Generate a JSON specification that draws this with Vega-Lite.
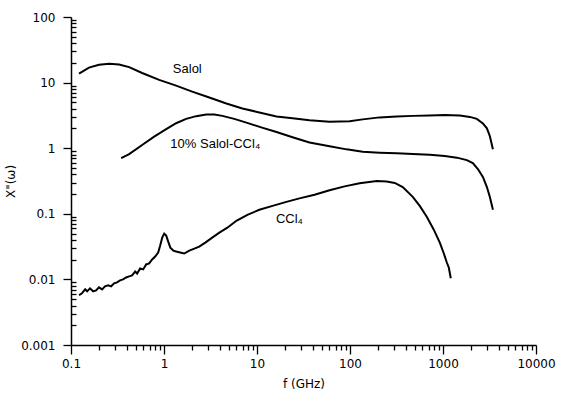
{
  "$schema": "https://vega.github.io/schema/vega-lite/v6.json",
  "width": 465,
  "height": 328,
  "autosize": {"type": "none"},
  "padding": {"left": 71, "top": 17, "right": 26, "bottom": 48},
  "background": "white",
  "config": {
    "view": {"stroke": null},
    "font": "Liberation Sans",
    "axis": {
      "domainColor": "black",
      "domainWidth": 1.5,
      "tickColor": "black",
      "tickWidth": 1.3,
      "grid": false,
      "labelColor": "black",
      "titleColor": "black",
      "labelFont": "DejaVu Sans",
      "labelFontSize": 12,
      "titleFont": "DejaVu Sans",
      "titleFontSize": 12,
      "titleFontWeight": "normal"
    }
  },
  "datasets": {
    "curves": [
      {"series": "Salol", "f": 0.122, "chi": 13.7},
      {"series": "Salol", "f": 0.156, "chi": 16.9},
      {"series": "Salol", "f": 0.2, "chi": 18.7},
      {"series": "Salol", "f": 0.257, "chi": 19.4},
      {"series": "Salol", "f": 0.329, "chi": 18.9},
      {"series": "Salol", "f": 0.422, "chi": 17.2},
      {"series": "Salol", "f": 0.582, "chi": 14.0},
      {"series": "Salol", "f": 0.887, "chi": 11.0},
      {"series": "Salol", "f": 1.35, "chi": 9.0},
      {"series": "Salol", "f": 2.01, "chi": 7.3},
      {"series": "Salol", "f": 3.07, "chi": 5.93},
      {"series": "Salol", "f": 4.68, "chi": 4.81},
      {"series": "Salol", "f": 6.96, "chi": 4.04},
      {"series": "Salol", "f": 10.6, "chi": 3.51},
      {"series": "Salol", "f": 16.2, "chi": 3.05},
      {"series": "Salol", "f": 24.1, "chi": 2.85},
      {"series": "Salol", "f": 36.7, "chi": 2.66},
      {"series": "Salol", "f": 60.3, "chi": 2.52},
      {"series": "Salol", "f": 99, "chi": 2.57},
      {"series": "Salol", "f": 137, "chi": 2.75},
      {"series": "Salol", "f": 208, "chi": 2.95},
      {"series": "Salol", "f": 318, "chi": 3.05},
      {"series": "Salol", "f": 473, "chi": 3.11},
      {"series": "Salol", "f": 721, "chi": 3.16},
      {"series": "Salol", "f": 1045, "chi": 3.22},
      {"series": "Salol", "f": 1517, "chi": 3.16},
      {"series": "Salol", "f": 1945, "chi": 3.0},
      {"series": "Salol", "f": 2313, "chi": 2.8},
      {"series": "Salol", "f": 2685, "chi": 2.39},
      {"series": "Salol", "f": 2965, "chi": 2.01},
      {"series": "Salol", "f": 3192, "chi": 1.52},
      {"series": "Salol", "f": 3442, "chi": 0.966},
      {"series": "Mix", "f": 0.346, "chi": 0.705},
      {"series": "Mix", "f": 0.422, "chi": 0.811},
      {"series": "Mix", "f": 0.582, "chi": 1.12},
      {"series": "Mix", "f": 0.784, "chi": 1.5},
      {"series": "Mix", "f": 1.056, "chi": 1.95},
      {"series": "Mix", "f": 1.35, "chi": 2.4},
      {"series": "Mix", "f": 1.73, "chi": 2.8},
      {"series": "Mix", "f": 2.22, "chi": 3.08},
      {"series": "Mix", "f": 2.85, "chi": 3.25},
      {"series": "Mix", "f": 3.48, "chi": 3.27},
      {"series": "Mix", "f": 4.24, "chi": 3.11},
      {"series": "Mix", "f": 5.7, "chi": 2.8},
      {"series": "Mix", "f": 7.69, "chi": 2.45},
      {"series": "Mix", "f": 11.1, "chi": 2.08},
      {"series": "Mix", "f": 16.2, "chi": 1.77},
      {"series": "Mix", "f": 24.1, "chi": 1.47},
      {"series": "Mix", "f": 36.7, "chi": 1.22},
      {"series": "Mix", "f": 60.3, "chi": 1.07},
      {"series": "Mix", "f": 91.8, "chi": 0.96},
      {"series": "Mix", "f": 137, "chi": 0.88},
      {"series": "Mix", "f": 208, "chi": 0.855},
      {"series": "Mix", "f": 318, "chi": 0.84},
      {"series": "Mix", "f": 473, "chi": 0.815},
      {"series": "Mix", "f": 721, "chi": 0.797},
      {"series": "Mix", "f": 1045, "chi": 0.76},
      {"series": "Mix", "f": 1408, "chi": 0.718},
      {"series": "Mix", "f": 1804, "chi": 0.658},
      {"series": "Mix", "f": 2094, "chi": 0.593},
      {"series": "Mix", "f": 2372, "chi": 0.481},
      {"series": "Mix", "f": 2685, "chi": 0.364},
      {"series": "Mix", "f": 2965, "chi": 0.256},
      {"series": "Mix", "f": 3192, "chi": 0.181},
      {"series": "Mix", "f": 3442, "chi": 0.115},
      {"series": "CCl4", "f": 0.122, "chi": 0.00573},
      {"series": "CCl4", "f": 0.131, "chi": 0.00614},
      {"series": "CCl4", "f": 0.142, "chi": 0.00705},
      {"series": "CCl4", "f": 0.149, "chi": 0.00658},
      {"series": "CCl4", "f": 0.16, "chi": 0.00731},
      {"series": "CCl4", "f": 0.173, "chi": 0.00658},
      {"series": "CCl4", "f": 0.186, "chi": 0.00681},
      {"series": "CCl4", "f": 0.2, "chi": 0.00757},
      {"series": "CCl4", "f": 0.216, "chi": 0.00705},
      {"series": "CCl4", "f": 0.232, "chi": 0.00784},
      {"series": "CCl4", "f": 0.251, "chi": 0.00812},
      {"series": "CCl4", "f": 0.27, "chi": 0.00784},
      {"series": "CCl4", "f": 0.291, "chi": 0.00869},
      {"series": "CCl4", "f": 0.313, "chi": 0.00901},
      {"series": "CCl4", "f": 0.337, "chi": 0.00966},
      {"series": "CCl4", "f": 0.363, "chi": 0.01},
      {"series": "CCl4", "f": 0.392, "chi": 0.0107},
      {"series": "CCl4", "f": 0.422, "chi": 0.0111},
      {"series": "CCl4", "f": 0.454, "chi": 0.0115},
      {"series": "CCl4", "f": 0.49, "chi": 0.0132},
      {"series": "CCl4", "f": 0.514, "chi": 0.0123},
      {"series": "CCl4", "f": 0.554, "chi": 0.0147},
      {"series": "CCl4", "f": 0.597, "chi": 0.0142},
      {"series": "CCl4", "f": 0.643, "chi": 0.0169},
      {"series": "CCl4", "f": 0.693, "chi": 0.0175},
      {"series": "CCl4", "f": 0.746, "chi": 0.0201},
      {"series": "CCl4", "f": 0.804, "chi": 0.0223},
      {"series": "CCl4", "f": 0.866, "chi": 0.0257},
      {"series": "CCl4", "f": 0.91, "chi": 0.0328},
      {"series": "CCl4", "f": 0.957, "chi": 0.0433},
      {"series": "CCl4", "f": 1.005, "chi": 0.0498},
      {"series": "CCl4", "f": 1.056, "chi": 0.0465},
      {"series": "CCl4", "f": 1.11, "chi": 0.0376},
      {"series": "CCl4", "f": 1.17, "chi": 0.0305},
      {"series": "CCl4", "f": 1.26, "chi": 0.0275},
      {"series": "CCl4", "f": 1.35, "chi": 0.0266},
      {"series": "CCl4", "f": 1.49, "chi": 0.0257},
      {"series": "CCl4", "f": 1.65, "chi": 0.0248},
      {"series": "CCl4", "f": 1.87, "chi": 0.0275},
      {"series": "CCl4", "f": 2.12, "chi": 0.0295},
      {"series": "CCl4", "f": 2.39, "chi": 0.0316},
      {"series": "CCl4", "f": 2.78, "chi": 0.0364},
      {"series": "CCl4", "f": 3.3, "chi": 0.0433},
      {"series": "CCl4", "f": 3.94, "chi": 0.0515},
      {"series": "CCl4", "f": 4.8, "chi": 0.0614},
      {"series": "CCl4", "f": 6.0, "chi": 0.0783},
      {"series": "CCl4", "f": 7.88, "chi": 0.0966},
      {"series": "CCl4", "f": 10.6, "chi": 0.115},
      {"series": "CCl4", "f": 14.7, "chi": 0.132},
      {"series": "CCl4", "f": 20.7, "chi": 0.152},
      {"series": "CCl4", "f": 28.6, "chi": 0.172},
      {"series": "CCl4", "f": 41.6, "chi": 0.195},
      {"series": "CCl4", "f": 60.3, "chi": 0.228},
      {"series": "CCl4", "f": 87.5, "chi": 0.262},
      {"series": "CCl4", "f": 127, "chi": 0.293},
      {"series": "CCl4", "f": 194, "chi": 0.316},
      {"series": "CCl4", "f": 248, "chi": 0.311},
      {"series": "CCl4", "f": 303, "chi": 0.295},
      {"series": "CCl4", "f": 369, "chi": 0.256},
      {"series": "CCl4", "f": 473, "chi": 0.181},
      {"series": "CCl4", "f": 562, "chi": 0.132},
      {"series": "CCl4", "f": 669, "chi": 0.09},
      {"series": "CCl4", "f": 796, "chi": 0.0573},
      {"series": "CCl4", "f": 924, "chi": 0.0364},
      {"series": "CCl4", "f": 1021, "chi": 0.0248},
      {"series": "CCl4", "f": 1099, "chi": 0.0181},
      {"series": "CCl4", "f": 1154, "chi": 0.0152},
      {"series": "CCl4", "f": 1213, "chi": 0.0104}
    ],
    "labels": [
      {"label": "Salol", "f": 1.78, "chi": 16.3},
      {"label": "10%  Salol-CCl₄", "f": 3.56, "chi": 1.15},
      {"label": "CCl₄", "f": 22.3, "chi": 0.084}
    ]
  },
  "layer": [
    {
      "data": {"name": "curves"},
      "mark": {"type": "line", "color": "black", "strokeWidth": 2, "clip": true},
      "encoding": {
        "x": {
          "field": "f", "type": "quantitative",
          "scale": {"type": "log", "domain": [0.1, 10000], "nice": false},
          "axis": {
            "title": "f (GHz)",
            "titleY": 33,
            "titleBaseline": "top",
            "values": [0.1,0.2,0.3,0.4,0.5,0.6,0.7,0.8,0.9,1,2,3,4,5,6,7,8,9,10,20,30,40,50,60,70,80,90,100,200,300,400,500,600,700,800,900,1000,2000,3000,4000,5000,6000,7000,8000,9000,10000],
            "labelExpr": "abs(log(datum.value)/LN10 - round(log(datum.value)/LN10)) < 1e-6 ? format(datum.value, '~g') : ''",
            "tickSize": {"condition": {"test": "abs(log(datum.value)/LN10 - round(log(datum.value)/LN10)) < 1e-6", "value": 9}, "value": 5},
            "labelPadding": 4,
            "labelFlush": false,
            "labelOverlap": false
          }
        },
        "y": {
          "field": "chi", "type": "quantitative",
          "scale": {"type": "log", "domain": [0.001, 100], "nice": false},
          "axis": {
            "title": "X\"(ω)",
            "titleX": -54,
            "values": [0.001,0.002,0.003,0.004,0.005,0.006,0.007,0.008,0.009,0.01,0.02,0.03,0.04,0.05,0.06,0.07,0.08,0.09,0.1,0.2,0.3,0.4,0.5,0.6,0.7,0.8,0.9,1,2,3,4,5,6,7,8,9,10,20,30,40,50,60,70,80,90,100],
            "labelExpr": "abs(log(datum.value)/LN10 - round(log(datum.value)/LN10)) < 1e-6 ? format(datum.value, '~g') : ''",
            "tickSize": {"condition": {"test": "abs(log(datum.value)/LN10 - round(log(datum.value)/LN10)) < 1e-6", "value": 8}, "value": -5},
            "labelPadding": 8,
            "labelFlush": false,
            "labelOverlap": false
          }
        },
        "detail": {"field": "series"}
      }
    },
    {
      "data": {"name": "labels"},
      "mark": {"type": "text", "color": "black", "font": "Liberation Sans", "fontSize": 13, "align": "center", "baseline": "middle"},
      "encoding": {
        "x": {"field": "f", "type": "quantitative"},
        "y": {"field": "chi", "type": "quantitative"},
        "text": {"field": "label"}
      }
    }
  ]
}
